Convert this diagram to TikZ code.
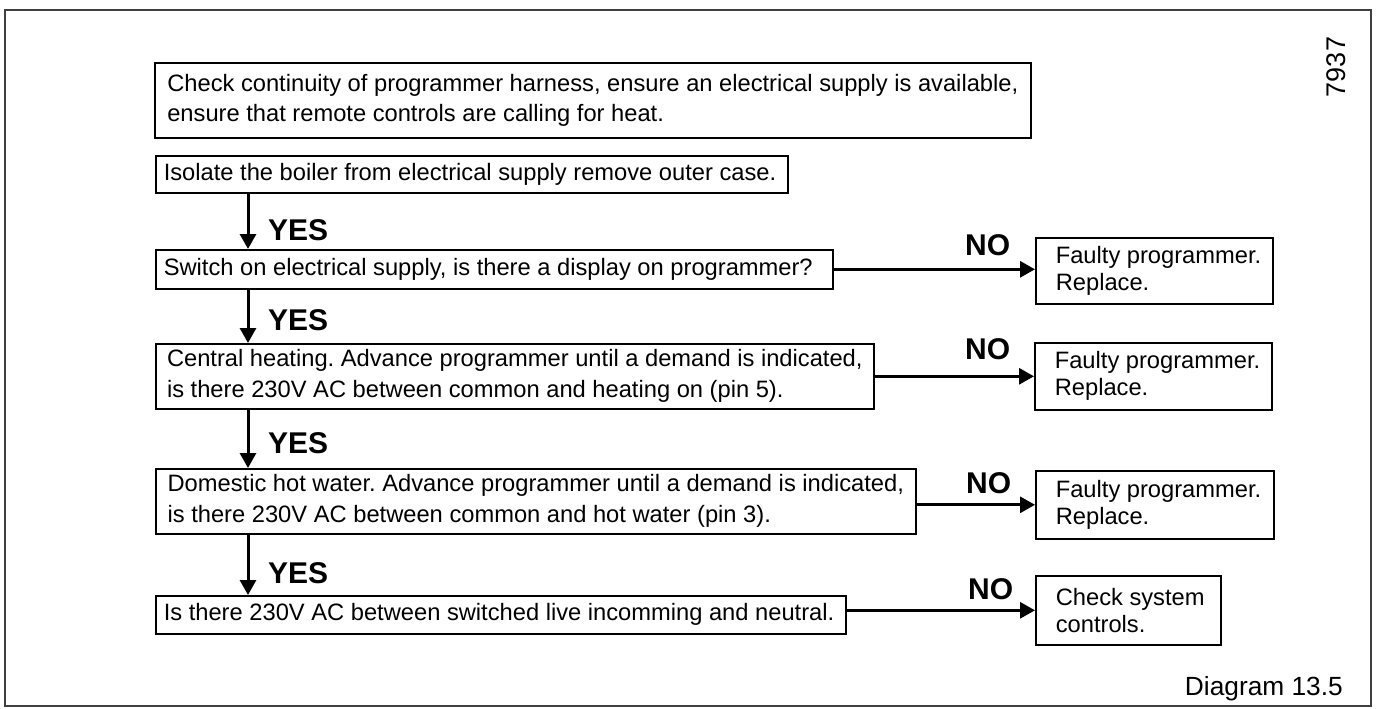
\documentclass[tikz,border=0pt]{standalone}
\usepackage{fontspec}
\setmainfont{Liberation Sans}
\usetikzlibrary{arrows.meta}
\frenchspacing
\begin{document}
\begin{tikzpicture}[x=1pt, y=-1pt,
    box/.style={draw, line width=1.6pt, anchor=north west, align=left, inner ysep=0pt, inner xsep=8pt,
        font=\fontsize{23.7}{30}\selectfont},
    outcome/.style={box, inner xsep=0pt, font=\fontsize{23.7}{27}\selectfont},
    flow/.style={-{Triangle[length=15pt,width=16pt]}, line width=3pt},
    answer/.style={anchor=base west, inner sep=0pt, font=\fontsize{30}{30}\selectfont\bfseries}]
    \useasboundingbox (0,0) rectangle (1378,709);
    \draw[line width=1.2pt, black!75] (5,10) rectangle (1371,706);
    \coordinate (spine) at (248,0);

    % checks down the left
    \node[box, minimum width=876pt, minimum height=75pt] (check) at (154,62)
        {Check continuity of programmer harness, ensure an electrical supply is available,\\
         ensure that remote controls are calling for heat.};
    \node[box, minimum width=632pt, minimum height=37pt] (isolate) at (155,155)
        {\makebox[616pt][l]{Isolate the boiler from electrical supply remove outer case.}};
    \node[box, minimum width=677pt, minimum height=39pt] (switch) at (155,249)
        {\makebox[661pt][l]{Switch on electrical supply, is there a display on programmer?}};
    \node[box, minimum width=718pt, minimum height=65pt, font=\fontsize{23.7}{31}\selectfont] (central) at (155,343)
        {Central heating. Advance programmer until a demand is indicated,\\
         is there 230V AC between common and heating on (pin 5).};
    \node[box, minimum width=760pt, minimum height=65pt, font=\fontsize{23.7}{31}\selectfont] (domestic) at (155,468)
        {Domestic hot water. Advance programmer until a demand is indicated,\\
         is there 230V AC between common and hot water (pin 3).};
    \node[box, minimum width=690pt, minimum height=38pt] (isthere) at (155,595)
        {\makebox[674pt][l]{Is there 230V AC between switched live incomming and neutral.}};

    % outcomes on the right
    \node[outcome, minimum width=237pt, minimum height=66pt] (fault1) at (1035,237)
        {\makebox[197pt][l]{Faulty programmer.}\\Replace.};
    \node[outcome, minimum width=237pt, minimum height=67pt] (fault2) at (1034,342)
        {\makebox[197pt][l]{Faulty programmer.}\\Replace.};
    \node[outcome, minimum width=238pt, minimum height=68pt] (fault3) at (1035,470)
        {\makebox[198pt][l]{Faulty programmer.}\\Replace.};
    \node[outcome, minimum width=185pt, minimum height=69pt] (system) at (1035,575)
        {\makebox[145pt][l]{Check system}\\controls.};

    % yes path
    \foreach \a/\b in {isolate/switch, switch/central, central/domestic, domestic/isthere}{
        \draw[flow] (\a.south -| spine) -- (\b.north -| spine);
    }
    \node[answer] (yes1) at (268,240) {YES};
    \node[answer] (yes2) at (268,330) {YES};
    \node[answer] (yes3) at (268,453) {YES};
    \node[answer] (yes4) at (268,583) {YES};

    % no path
    \draw[flow] (switch.east) -- (switch.east -| fault1.west);
    \draw[flow] (central.east) -- (central.east -| fault2.west);
    \draw[flow] (domestic.east |- fault3.west) -- (fault3.west);
    \draw[flow] (isthere.east |- system.west) -- (system.west);
    \node[answer] (no1) at (965,255) {NO};
    \node[answer] (no2) at (965,359) {NO};
    \node[answer] (no3) at (966,493) {NO};
    \node[answer] (no4) at (968,599) {NO};

    \node[anchor=base east, inner sep=0pt, font=\fontsize{26.3}{26.3}\selectfont] (caption) at (1343,695) {Diagram 13.5};
    \node[rotate=90, inner sep=0pt, font=\fontsize{27}{27}\selectfont] (ref) at (1336,67) {7937};
\end{tikzpicture}
\end{document}
